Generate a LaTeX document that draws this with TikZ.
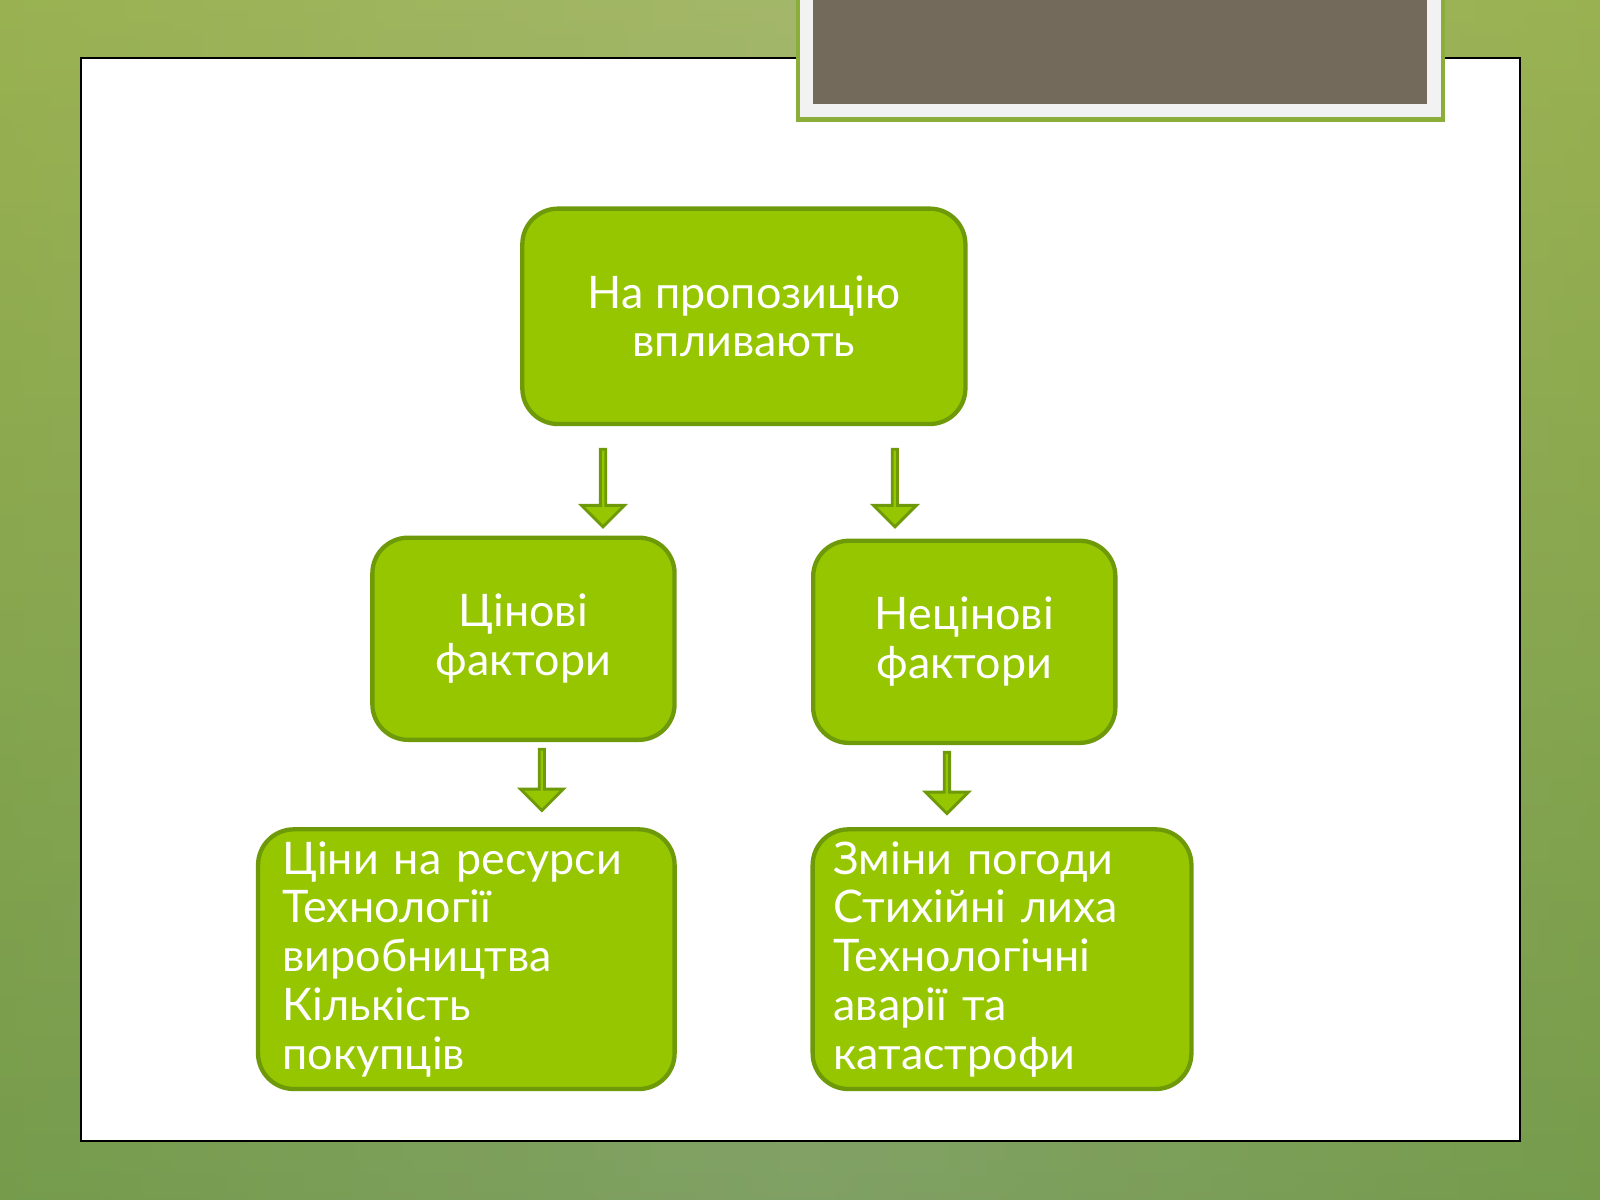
\documentclass[tikz,border=0pt]{standalone}
\usepackage{fontspec}
\setmainfont{Lato}
\usetikzlibrary{shapes.arrows}
\definecolor{leaf}{HTML}{95C600}
\definecolor{leafedge}{HTML}{6E9A0A}
\definecolor{titlegrey}{HTML}{746A5B}
\tikzset{
  box/.style={draw=leafedge, line width=1.2pt, fill=leaf, rounded corners=0.35cm,
    text=white, font=\fontsize{12.5}{13.6}\selectfont, align=center},
  listbox/.style={box, align=left},
  downarrow/.style={single arrow, draw=leafedge, fill=leaf, line width=0.8pt,
    shape border rotate=270, minimum width=0.42cm, single arrow head extend=0.1cm,
    inner sep=0pt, minimum height=0.76cm}
}
\begin{document}
\begin{tikzpicture}[x=0.01cm,y=-0.01cm]
  \useasboundingbox (0,0) rectangle (1568,1176);
  % background and slide panel
  \shade[top color=green!25!yellow!45!white, bottom color=green!40!black!45!white!90!green]
    (0,0) rectangle (1568,1176);
  \fill[left color=white!30!leaf, right color=white!30!leaf, middle color=white!55!leaf,
    opacity=0.4] (0,0) rectangle (1568,1176);
  \draw[fill=white, line width=0.6pt] (79,57) rectangle (1490,1118);
  \draw[leafedge!80, fill=white!95!black, line width=1.2pt] (782,-5) rectangle (1414,117);
  \fill[titlegrey] (797,0) rectangle (1398,102);

  \node[box, minimum width=4.34cm, minimum height=2.11cm] (top) at (729,310)
    {На пропозицію\\впливають};
  \node[box, minimum width=2.96cm, minimum height=1.98cm] (price) at (513,626)
    {Цінові\\фактори};
  \node[box, minimum width=2.96cm, minimum height=1.98cm] (nonprice) at (945,629)
    {Нецінові\\фактори};
  \node[listbox, minimum width=4.08cm, minimum height=2.34cm, text width=3.6cm] (pricelist) at (457,940)
    {Ціни на ресурси\\Технології\\виробництва\\Кількість покупців};
  \node[listbox, minimum width=3.71cm, minimum height=2.34cm, text width=3.3cm] (nonpricelist) at (982,940)
    {Зміни погоди\\Стихійні лиха\\Технологічні\\аварії та\\катастрофи};

  \node[downarrow] (a1) at (591,477) {};
  \node[downarrow] (a2) at (877,477) {};
  \node[downarrow, minimum height=0.6cm] (a3) at (531,763) {};
  \node[downarrow, minimum height=0.6cm] (a4) at (928,766) {};
\end{tikzpicture}
\end{document}
